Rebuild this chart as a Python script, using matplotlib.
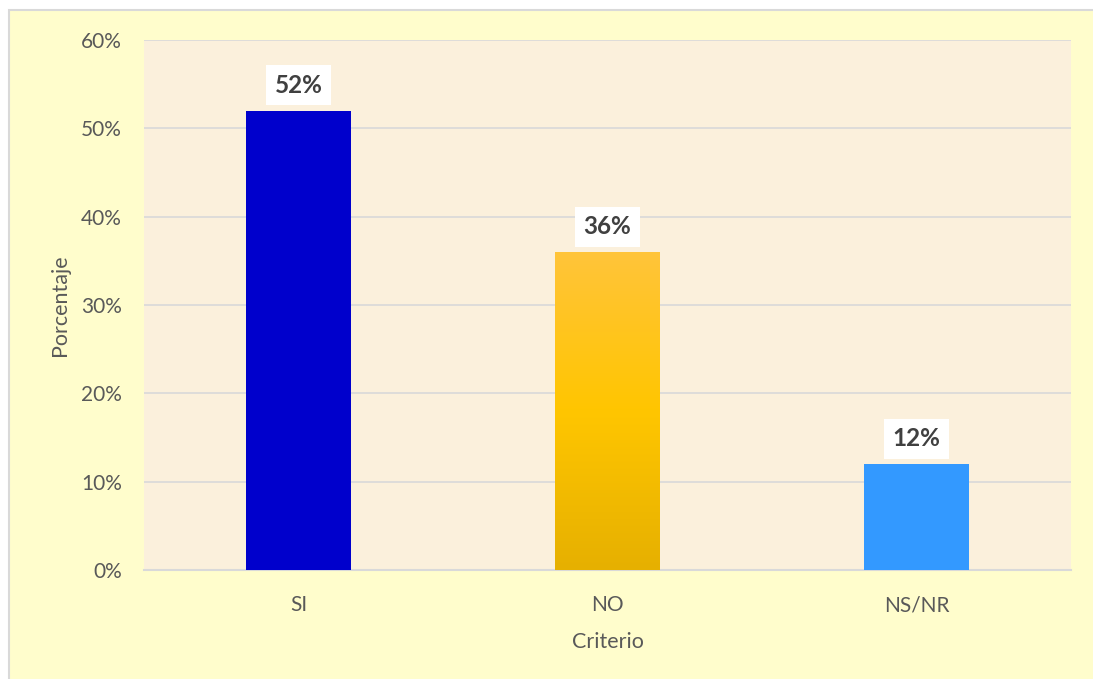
import matplotlib
matplotlib.use("Agg")
import matplotlib.pyplot as plt
import numpy as np
from matplotlib.patches import Rectangle
from matplotlib import patheffects as pe
from matplotlib.colors import LinearSegmentedColormap

categories = ["SI", "NO", "NS/NR"]
values = [52, 36, 12]
value_labels = ["52%", "36%", "12%"]
y_ticks = [0, 10, 20, 30, 40, 50, 60]
y_tick_labels = ["0%", "10%", "20%", "30%", "40%", "50%", "60%"]

plt.rcParams["font.family"] = ["Lato", "DejaVu Sans"]

W, H = 1093, 679
fig = plt.figure(figsize=(W / 100, H / 100), dpi=100, facecolor="white")

# chart frame: pale yellow panel with a thin grey outline
frame = Rectangle((9 / W, -0.05), 1.2, (H - 10) / H + 0.05, transform=fig.transFigure,
                  facecolor="#FFFDCC", edgecolor="#D9D9D9", linewidth=1.5,
                  zorder=-10)
fig.patches.append(frame)

left, right, top, bottom = 144, 1071, 40, 570
ax = fig.add_axes([left / W, 1 - bottom / H, (right - left) / W, (bottom - top) / H])
ax.set_facecolor("#FBF0DC")

x = np.arange(len(categories))
bar_colors = ["#0000CC", "#FFC400", "#3399FF"]
bars = ax.bar(x, values, width=0.337, color=bar_colors, zorder=3,
              path_effects=[pe.SimplePatchShadow(offset=(0, -1), shadow_rgbFace="#8a7a60",
                                                 alpha=0.35), pe.Normal()])

# vertical gradient on the NO bar
grad_cmap = LinearSegmentedColormap.from_list(
    "no_grad", ["#E6B000", "#FFC600", "#FFC43A"])
nb = bars[1]
gx0, gw, gh = nb.get_x(), nb.get_width(), nb.get_height()
grad = np.linspace(0, 1, 256).reshape(-1, 1)
im = ax.imshow(grad, cmap=grad_cmap, origin="lower", aspect="auto",
               extent=(gx0, gx0 + gw, 0, gh), zorder=3.5, interpolation="bicubic")
im.set_clip_path(nb)

ax.set_xlim(-0.5, len(categories) - 0.5)
ax.set_ylim(0, 60)
ax.set_yticks(y_ticks)
ax.set_yticklabels(y_tick_labels)
ax.set_xticks(x)
ax.set_xticklabels(categories)
ax.yaxis.grid(True, color="#D9D9D9", linewidth=1.2, zorder=1)
ax.set_axisbelow(True)
for s in ["top", "right", "left"]:
    ax.spines[s].set_visible(False)
ax.spines["bottom"].set_color("#D9D9D9")
ax.spines["bottom"].set_linewidth(1.5)
ax.tick_params(axis="both", length=0, colors="#595959", labelsize=15)
ax.tick_params(axis="y", pad=16)
ax.tick_params(axis="x", pad=18)

ax.set_ylabel("Porcentaje", fontsize=15.5, color="#595959", labelpad=8)
ax.set_xlabel("Criterio", fontsize=15.5, color="#595959", labelpad=12)

for xi, v, lab in zip(x, values, value_labels):
    ax.annotate(lab, (xi, v), xytext=(0, 10), textcoords="offset points",
                ha="center", va="bottom", fontsize=17.5, fontweight="bold",
                color="#404040", zorder=5,
                bbox=dict(boxstyle="square,pad=0.35", facecolor="white",
                          edgecolor="none"))

fig.savefig("out.png", dpi=100, facecolor="white")
